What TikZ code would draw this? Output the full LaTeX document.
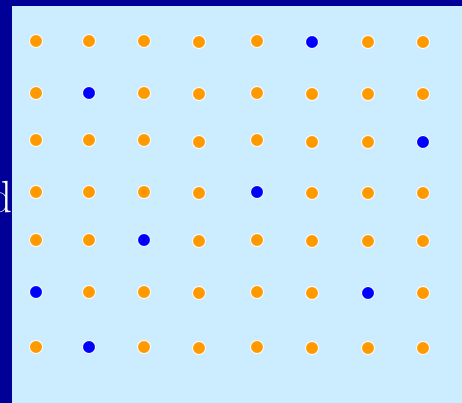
\documentclass[tikz,border=0pt]{standalone}
\definecolor{frameblue}{RGB}{0,0,153}
\definecolor{panelblue}{RGB}{204,236,255}
\definecolor{dotorange}{RGB}{255,153,0}
\definecolor{dotblue}{RGB}{0,0,255}
\tikzset{
  dotbase/.style={circle, inner sep=0pt, minimum size=13pt, draw=white, line width=0.9pt},
  odot/.style={dotbase, fill=dotorange},
  bdot/.style={dotbase, fill=dotblue},
}
\begin{document}
\begin{tikzpicture}[x=1pt,y=-1pt]
\useasboundingbox (0,0) rectangle (462,403);
\fill[frameblue] (0,0) rectangle (462,403);
\node[text=white, inner sep=0pt, anchor=base east, font=\fontsize{45}{50}\selectfont] (lbl) at (13,212) {d};
\fill[panelblue] (12,6) rectangle (462,403);
\foreach \x/\y/\s [count=\i] in {
  36/41/odot, 89/41/odot, 144/41/odot, 199/42/odot, 257/41/odot, 312/42/bdot, 368/42/odot, 423/42/odot,
  36/93/odot, 89/93/bdot, 144/93/odot, 199/94/odot, 257/93/odot, 312/94/odot, 368/94/odot, 423/94/odot,
  36/140/odot, 89/140/odot, 144/140/odot, 199/142/odot, 257/140/odot, 312/142/odot, 368/142/odot, 423/142/bdot,
  36/192/odot, 89/192/odot, 144/192/odot, 199/193/odot, 257/192/bdot, 312/193/odot, 368/193/odot, 423/193/odot,
  36/240/odot, 89/240/odot, 144/240/bdot, 199/241/odot, 257/240/odot, 312/241/odot, 368/241/odot, 423/241/odot,
  36/292/bdot, 89/292/odot, 144/292/odot, 199/293/odot, 257/292/odot, 312/293/odot, 368/293/bdot, 423/293/odot,
  36/347/odot, 89/347/bdot, 144/347/odot, 199/348/odot, 257/347/odot, 312/348/odot, 368/348/odot, 423/348/odot}
  { \node[\s] (dot\i) at (\x,\y) {}; }
\end{tikzpicture}
\end{document}
